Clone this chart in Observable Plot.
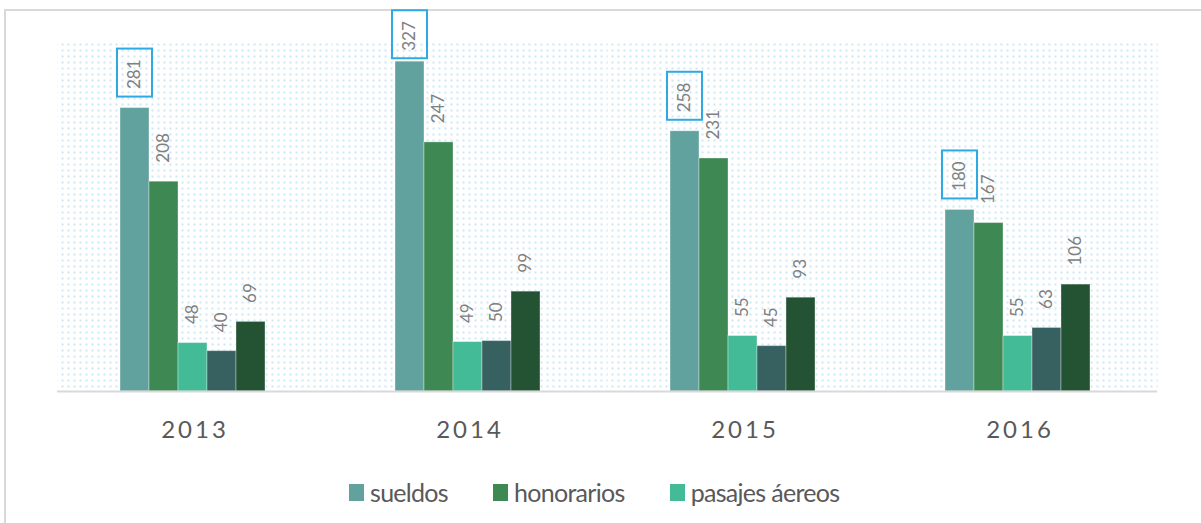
<!DOCTYPE html>
<html><head><meta charset="utf-8">
<script src="https://cdn.jsdelivr.net/npm/d3@7"></script>
<script src="https://cdn.jsdelivr.net/npm/@observablehq/plot@0.6"></script>
<style>
html,body{margin:0;padding:0;background:#fff;}
#wrap{position:relative;width:1201px;height:523px;overflow:hidden;background:#fff;font-family:Lato,"Open Sans",sans-serif;}
#border{position:absolute;left:4px;top:9px;width:1400px;height:800px;border:2px solid #d9d9d9;box-sizing:border-box;}
#chart{position:absolute;left:0;top:0;}
#legend{position:absolute;left:349px;top:476px;display:flex;gap:45px;align-items:center;font-size:25px;color:#595959;line-height:32px;letter-spacing:-0.7px;}
.item{display:flex;align-items:center;gap:6px;}
.sw{width:15px;height:17px;display:inline-block;}
</style></head><body>
<div id="wrap"><div id="border"></div><div id="chart"></div><div id="legend"></div></div>
<script>
const years = ["2013", "2014", "2015", "2016"];
const series = ["sueldos", "honorarios", "pasajes áereos", "viáticos", "otros gastos"];
const sueldos = [281, 327, 258, 180];
const honorarios = [208, 247, 231, 167];
const pasajes = [48, 49, 55, 55];
const viaticos = [40, 50, 45, 63];
const otros = [69, 99, 93, 106];
const colors = ["#62a29e", "#3d8853", "#43bb96", "#376160", "#245333"];
const legendSeries = ["sueldos", "honorarios", "pasajes áereos"];
const highlighted = "sueldos";
const labelCeiling = 319; // labels of taller bars are pushed down to stay inside the chart

const valuesBySeries = [sueldos, honorarios, pasajes, viaticos, otros];
const rows = [];
years.forEach((year, i) => {
  series.forEach((serie, j) => {
    const value = valuesBySeries[j][i];
    rows.push({year, serie, value, anchor: Math.min(value, labelCeiling)});
  });
});

const plot = Plot.plot({
  width: 1201,
  height: 455,
  marginLeft: 57,
  marginRight: 44,
  marginTop: 40,
  marginBottom: 64,
  style: {background: "transparent", fontFamily: "Lato, 'Open Sans', sans-serif", fontSize: "24px", color: "#595959"},
  fx: {domain: years, padding: 0, label: null, axis: "bottom", tickSize: 0, tickPadding: 29},
  x: {domain: series, paddingInner: 0, paddingOuter: 2.24, align: 0.485, axis: null},
  y: {domain: [0, 348], axis: null},
  color: {domain: series, range: colors},
  marks: [
    Plot.frame({fill: "url(#dots)", stroke: null}),
    Plot.barY(rows, {fx: "year", x: "serie", y: "value", fill: "serie", stroke: "white", strokeOpacity: 0.35, strokeWidth: 1}),
    Plot.ruleY([0], {stroke: "#d9d9d9", strokeWidth: 2}),
    Plot.text(rows, {fx: "year", x: "serie", y: "anchor", text: d => String(d.value), rotate: -90, textAnchor: "start", dy: -19, fontSize: 17, fill: "#7f7f7f"}),
    Plot.barY(rows.filter(d => d.serie === highlighted), {fx: "year", x: "serie", y1: "anchor", y2: "anchor", insetTop: -59, insetBottom: 11, insetLeft: -3, insetRight: -3, fill: "none", stroke: "#2fa9e1", strokeWidth: 2})
  ]
});

const ns = "http://www.w3.org/2000/svg";
const defs = document.createElementNS(ns, "defs");
const pat = document.createElementNS(ns, "pattern");
pat.setAttribute("id", "dots");
pat.setAttribute("width", "6");
pat.setAttribute("height", "6");
pat.setAttribute("patternUnits", "userSpaceOnUse");
const r = document.createElementNS(ns, "rect");
r.setAttribute("x", "1"); r.setAttribute("y", "1");
r.setAttribute("width", "2"); r.setAttribute("height", "2");
r.setAttribute("fill", "#c9e8f4");
pat.appendChild(r);
defs.appendChild(pat);
plot.insertBefore(defs, plot.firstChild);

plot.querySelectorAll('[aria-label^="fx-axis"] text').forEach(t => { t.style.letterSpacing = "3px"; });

document.getElementById("chart").appendChild(plot);

const legend = document.getElementById("legend");
legendSeries.forEach(s => {
  const item = document.createElement("div");
  item.className = "item";
  const sw = document.createElement("span");
  sw.className = "sw";
  sw.style.background = colors[series.indexOf(s)];
  const label = document.createElement("span");
  label.textContent = s;
  item.appendChild(sw);
  item.appendChild(label);
  legend.appendChild(item);
});
</script>
</body></html>
